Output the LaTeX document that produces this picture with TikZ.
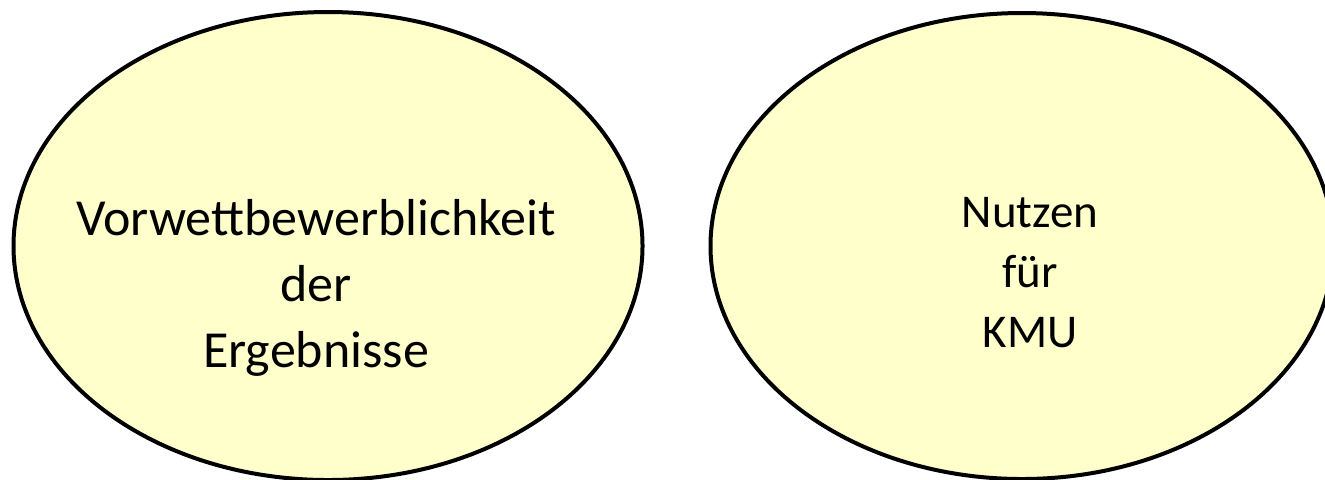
\documentclass[tikz,border=0pt]{standalone}
\usepackage{fontspec}
\setmainfont{Carlito}
\usetikzlibrary{shapes.geometric,positioning}
\definecolor{paleyellow}{HTML}{FFFFCC}

\begin{document}
\begin{tikzpicture}[x=0.5pt, y=-0.5pt,
    bubble/.style={ellipse, draw, line width=2pt, fill=paleyellow, inner sep=0pt},
    caption/.style={align=center, font=\fontsize{23.5}{30}\selectfont}]

    \useasboundingbox (0,0) rectangle (1325,479);
    \clip (0,0) rectangle (1325,479);

    % left bubble
    \node[bubble, minimum width=314.5pt, minimum height=234pt] (lhs) at (328,246) {};
    \node[caption, font=\fontsize{26}{33}\selectfont] (lhstext) at (316,288) {Vorwettbewerblichkeit\\der\\Ergebnisse};

    % right bubble
    \node[bubble, minimum width=311.5pt, minimum height=233pt] (rhs) at (1022,246) {};
    \node[caption] (rhstext) at (1030,273) {Nutzen\\für\\KMU};

\end{tikzpicture}
\end{document}
